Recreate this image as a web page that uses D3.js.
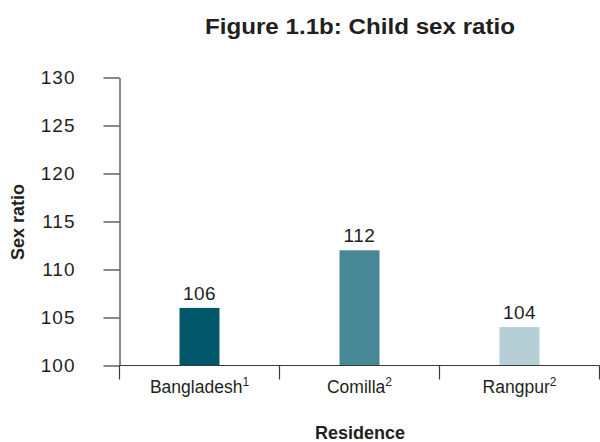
<!DOCTYPE html>
<html>
<head>
<meta charset="utf-8">
<script src="https://cdn.jsdelivr.net/npm/d3@7"></script>
<style>
  html, body { margin: 0; padding: 0; background: #fff; }
  svg { display: block; font-family: "Liberation Sans", Arial, sans-serif; }
</style>
</head>
<body>
<svg id="chart" width="600" height="442"></svg>
<script>
// Child sex ratio by residence
const categories = ["Bangladesh", "Comilla", "Rangpur"];
const footnotes = ["1", "2", "2"];
const values = [106, 112, 104];
const barColors = ["#02586a", "#468896", "#b6ced6"];
const yTicks = [100, 105, 110, 115, 120, 125, 130];

const svg = d3.select("#chart");
const margin = { top: 77.5, right: 0.5, bottom: 76.5, left: 119.5 };
const width = 600, height = 442;

const x = d3.scaleBand()
  .domain(categories)
  .range([margin.left, width - margin.right])
  .padding(0);

const y = d3.scaleLinear()
  .domain([100, 130])
  .range([height - margin.bottom, margin.top]);

const textColor = "#231f20";
const axisColor = "#3a3a3a";

// Title
svg.append("text")
  .attr("x", 360)
  .attr("y", 34)
  .attr("text-anchor", "middle")
  .attr("font-weight", "bold")
  .attr("font-size", 22)
  .attr("fill", textColor)
  .attr("textLength", 310)
  .attr("lengthAdjust", "spacingAndGlyphs")
  .text("Figure 1.1b: Child sex ratio");

// Y axis
const yAxis = svg.append("g")
  .attr("transform", `translate(${margin.left},0)`)
  .call(d3.axisLeft(y).tickValues(yTicks).tickSize(16).tickSizeOuter(0).tickPadding(28));
yAxis.selectAll("path, line").attr("stroke", axisColor).attr("stroke-width", 1.2);
yAxis.selectAll("text")
  .attr("font-size", 19)
  .attr("fill", textColor)
  .attr("letter-spacing", 1)
  .attr("font-family", "Liberation Sans, Arial, sans-serif");

// Bars
const barW = x.bandwidth() * 0.25;
svg.append("g").selectAll("rect")
  .data(categories)
  .join("rect")
  .attr("x", (d) => x(d) + (x.bandwidth() - barW) / 2)
  .attr("y", (d, i) => y(values[i]))
  .attr("width", barW)
  .attr("height", (d, i) => y(100) - y(values[i]))
  .attr("fill", (d, i) => barColors[i]);

// Value labels
svg.append("g").selectAll("text")
  .data(categories)
  .join("text")
  .attr("x", (d) => x(d) + x.bandwidth() / 2)
  .attr("y", (d, i) => y(values[i]) - 8)
  .attr("text-anchor", "middle")
  .attr("font-size", 19)
  .attr("letter-spacing", 0.5)
  .attr("fill", textColor)
  .text((d, i) => values[i]);

// X axis baseline and boundary ticks
const xAxis = svg.append("g");
xAxis.append("line")
  .attr("x1", margin.left).attr("x2", width - margin.right)
  .attr("y1", y(100)).attr("y2", y(100))
  .attr("stroke", axisColor).attr("stroke-width", 1.2);
const bounds = categories.map((d) => x(d)).concat([x.range()[1]]);
xAxis.selectAll("line.tick")
  .data(bounds)
  .join("line")
  .attr("class", "tick")
  .attr("x1", (d) => d).attr("x2", (d) => d)
  .attr("y1", y(100)).attr("y2", y(100) + 14)
  .attr("stroke", axisColor).attr("stroke-width", 1.2);

// Category labels with footnote superscripts
const catLabels = xAxis.selectAll("text.cat")
  .data(categories)
  .join("text")
  .attr("class", "cat")
  .attr("x", (d) => x(d) + x.bandwidth() / 2)
  .attr("y", 393)
  .attr("text-anchor", "middle")
  .attr("font-size", 17.5)
  .attr("fill", textColor);
catLabels.append("tspan").text((d) => d);
catLabels.append("tspan")
  .attr("dy", -7)
  .attr("font-size", 12)
  .text((d, i) => footnotes[i]);

// Axis titles
svg.append("text")
  .attr("x", 360)
  .attr("y", 439)
  .attr("text-anchor", "middle")
  .attr("font-weight", "bold")
  .attr("font-size", 18)
  .attr("fill", textColor)
  .text("Residence");

svg.append("text")
  .attr("transform", "translate(24,222) rotate(-90)")
  .attr("text-anchor", "middle")
  .attr("font-weight", "bold")
  .attr("font-size", 18)
  .attr("fill", textColor)
  .text("Sex ratio");
</script>
</body>
</html>
